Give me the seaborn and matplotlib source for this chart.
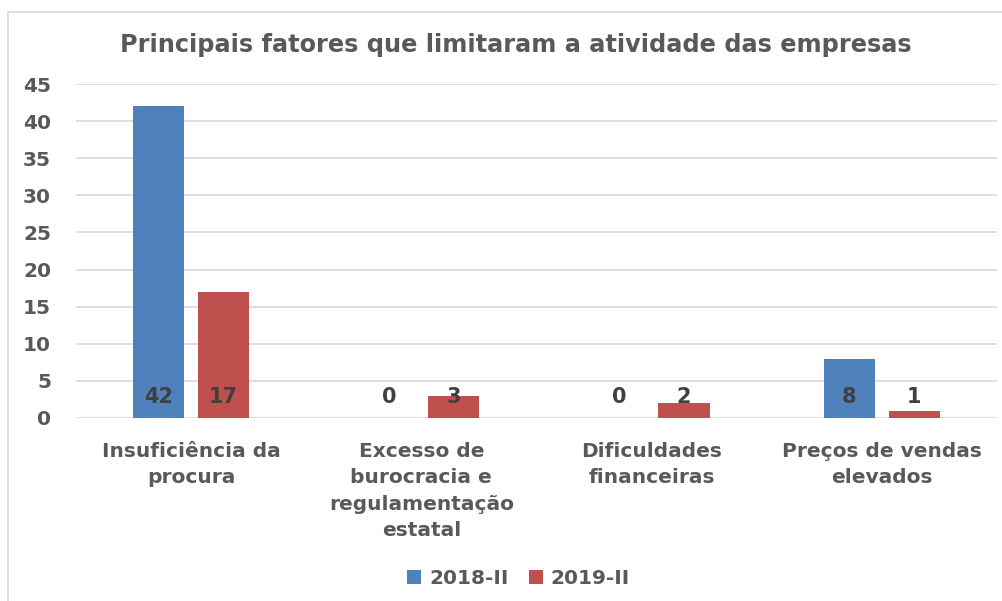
import matplotlib
matplotlib.use("Agg")
import matplotlib.pyplot as plt
import pandas as pd
import seaborn as sns
from matplotlib.patches import Rectangle

# ── Data ─────────────────────────────────────────────────────────────────────
categorias = [
    "Insuficiência da\nprocura",
    "Excesso de\nburocracia e\nregulamentação\nestatal",
    "Dificuldades\nfinanceiras",
    "Preços de vendas\nelevados",
]
periodos = ["2018-II", "2019-II"]
valores_2018 = [42, 0, 0, 8]
valores_2019 = [17, 3, 2, 1]
y_ticks = [0, 5, 10, 15, 20, 25, 30, 35, 40, 45]
titulo = "Principais fatores que limitaram a atividade das empresas"

cores = ["#4F81BD", "#C0504D"]
cinza = "#595959"

df = pd.DataFrame({
    "categoria": categorias * 2,
    "periodo": [periodos[0]] * 4 + [periodos[1]] * 4,
    "valor": valores_2018 + valores_2019,
})

sns.set_style("white")
plt.rcParams["font.family"] = ["DejaVu Sans"]

fig = plt.figure(figsize=(10.03, 6.01), dpi=100)
ax = fig.add_axes([0.0758, 0.3045, 0.918, 0.5557])

sns.barplot(data=df, x="categoria", y="valor", hue="periodo", palette=cores,
            width=0.565, gap=0.214, saturation=1, linewidth=0, ax=ax)

ax.set_xlim(-0.5, 3.5)
ax.set_ylim(0, 45)
ax.set_yticks(y_ticks)
ax.yaxis.grid(True, color="#D9D9D9", linewidth=1.2)
ax.set_axisbelow(True)
for s in ax.spines.values():
    s.set_visible(False)
ax.set_xlabel("")
ax.set_ylabel("")
ax.tick_params(axis="y", length=0, pad=18, labelsize=14.5, labelcolor=cinza)
ax.tick_params(axis="x", length=0, pad=17, labelsize=14.5, labelcolor=cinza)
for t in ax.get_yticklabels():
    t.set_fontweight("bold")
for t in ax.get_xticklabels():
    t.set_fontweight("bold")
    t.set_linespacing(1.5)
    t.set_verticalalignment("top")

# data labels near the base of each bar
for cont in ax.containers:
    for bar, v in zip(cont, cont.datavalues):
        ax.text(bar.get_x() + bar.get_width() / 2, 2.8, f"{v:g}",
                ha="center", va="center", fontsize=15, fontweight="bold",
                color="#404040")

ax.legend(loc="center", bbox_to_anchor=(0.517, 0.038), bbox_transform=fig.transFigure,
          ncol=2, frameon=False, handlelength=0.7, handleheight=0.7,
          handletextpad=0.4, columnspacing=1.0, prop={"size": 14.5, "weight": "bold"},
          labelcolor=cinza)

fig.text(0.514, 0.925, titulo, ha="center", va="center", fontsize=17.3,
         fontweight="bold", color=cinza)

# chart border
fig.patches.append(Rectangle((8 / 1003, -0.05), 1.1, 1 - 12 / 601 + 0.05,
                             transform=fig.transFigure, fill=False,
                             edgecolor="#D9D9D9", linewidth=1.2))

fig.savefig("out.png", dpi=100)
